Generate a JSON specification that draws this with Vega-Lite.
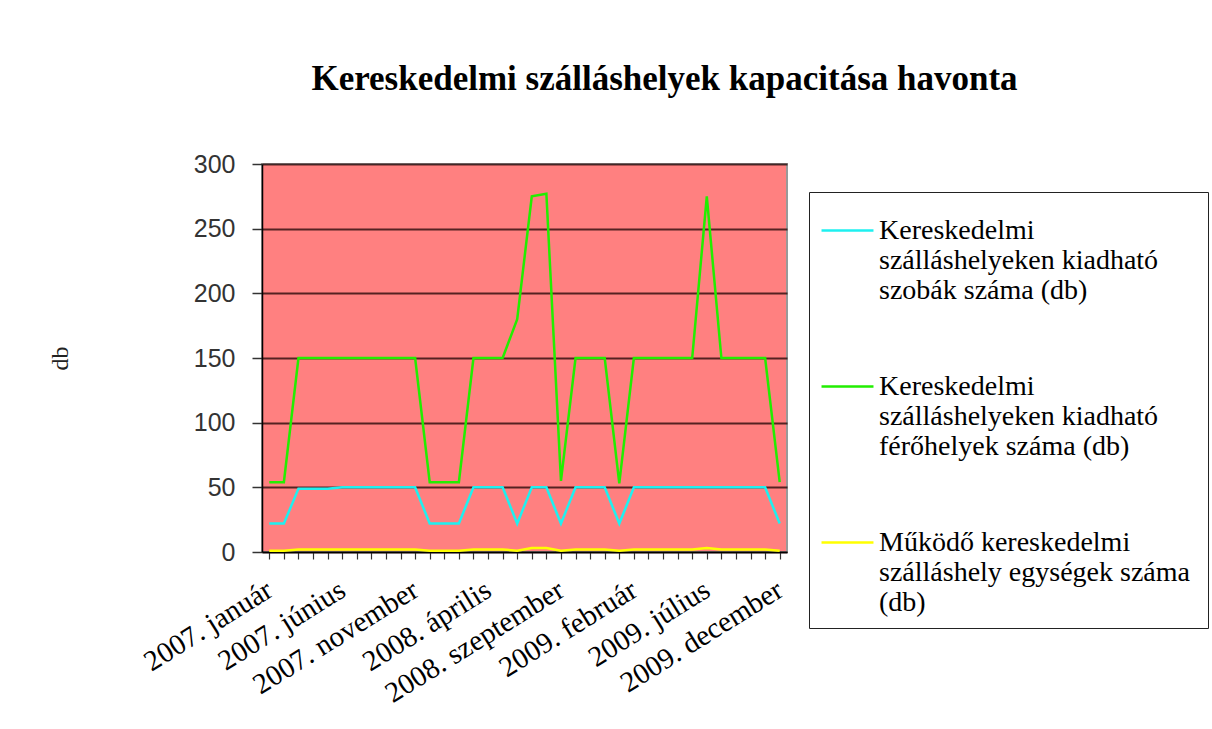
{
  "$schema": "https://vega.github.io/schema/vega-lite/v6.json",
  "autosize": "none",
  "width": 525,
  "height": 388,
  "padding": {"left": 262, "top": 164, "right": 425, "bottom": 177},
  "background": "white",
  "title": {
    "text": "Kereskedelmi szálláshelyek kapacitása havonta",
    "font": "Liberation Serif",
    "fontSize": 35,
    "fontWeight": "bold",
    "color": "#000",
    "anchor": "middle",
    "frame": "group",
    "baseline": "alphabetic",
    "dx": 140,
    "offset": 27
  },
  "data": {"values": [
    {"m":"2007. január","s":"S","v":22},{"m":"2007. február","s":"S","v":22},{"m":"2007. március","s":"S","v":49},{"m":"2007. április","s":"S","v":49},{"m":"2007. május","s":"S","v":49},{"m":"2007. június","s":"S","v":50},{"m":"2007. július","s":"S","v":50},{"m":"2007. augusztus","s":"S","v":50},{"m":"2007. szeptember","s":"S","v":50},{"m":"2007. október","s":"S","v":50},{"m":"2007. november","s":"S","v":50},{"m":"2007. december","s":"S","v":22},
    {"m":"2008. január","s":"S","v":22},{"m":"2008. február","s":"S","v":22},{"m":"2008. március","s":"S","v":50},{"m":"2008. április","s":"S","v":50},{"m":"2008. május","s":"S","v":50},{"m":"2008. június","s":"S","v":22},{"m":"2008. július","s":"S","v":50},{"m":"2008. augusztus","s":"S","v":50},{"m":"2008. szeptember","s":"S","v":22},{"m":"2008. október","s":"S","v":50},{"m":"2008. november","s":"S","v":50},{"m":"2008. december","s":"S","v":50},
    {"m":"2009. január","s":"S","v":22},{"m":"2009. február","s":"S","v":50},{"m":"2009. március","s":"S","v":50},{"m":"2009. április","s":"S","v":50},{"m":"2009. május","s":"S","v":50},{"m":"2009. június","s":"S","v":50},{"m":"2009. július","s":"S","v":50},{"m":"2009. augusztus","s":"S","v":50},{"m":"2009. szeptember","s":"S","v":50},{"m":"2009. október","s":"S","v":50},{"m":"2009. november","s":"S","v":50},{"m":"2009. december","s":"S","v":22},
    {"m":"2007. január","s":"F","v":54},{"m":"2007. február","s":"F","v":54},{"m":"2007. március","s":"F","v":150},{"m":"2007. április","s":"F","v":150},{"m":"2007. május","s":"F","v":150},{"m":"2007. június","s":"F","v":150},{"m":"2007. július","s":"F","v":150},{"m":"2007. augusztus","s":"F","v":150},{"m":"2007. szeptember","s":"F","v":150},{"m":"2007. október","s":"F","v":150},{"m":"2007. november","s":"F","v":150},{"m":"2007. december","s":"F","v":54},
    {"m":"2008. január","s":"F","v":54},{"m":"2008. február","s":"F","v":54},{"m":"2008. március","s":"F","v":150},{"m":"2008. április","s":"F","v":150},{"m":"2008. május","s":"F","v":150},{"m":"2008. június","s":"F","v":180},{"m":"2008. július","s":"F","v":275},{"m":"2008. augusztus","s":"F","v":277},{"m":"2008. szeptember","s":"F","v":55},{"m":"2008. október","s":"F","v":150},{"m":"2008. november","s":"F","v":150},{"m":"2008. december","s":"F","v":150},
    {"m":"2009. január","s":"F","v":53},{"m":"2009. február","s":"F","v":150},{"m":"2009. március","s":"F","v":150},{"m":"2009. április","s":"F","v":150},{"m":"2009. május","s":"F","v":150},{"m":"2009. június","s":"F","v":150},{"m":"2009. július","s":"F","v":275},{"m":"2009. augusztus","s":"F","v":150},{"m":"2009. szeptember","s":"F","v":150},{"m":"2009. október","s":"F","v":150},{"m":"2009. november","s":"F","v":150},{"m":"2009. december","s":"F","v":54},
    {"m":"2007. január","s":"E","v":1},{"m":"2007. február","s":"E","v":1},{"m":"2007. március","s":"E","v":2},{"m":"2007. április","s":"E","v":2},{"m":"2007. május","s":"E","v":2},{"m":"2007. június","s":"E","v":2},{"m":"2007. július","s":"E","v":2},{"m":"2007. augusztus","s":"E","v":2},{"m":"2007. szeptember","s":"E","v":2},{"m":"2007. október","s":"E","v":2},{"m":"2007. november","s":"E","v":2},{"m":"2007. december","s":"E","v":1},
    {"m":"2008. január","s":"E","v":1},{"m":"2008. február","s":"E","v":1},{"m":"2008. március","s":"E","v":2},{"m":"2008. április","s":"E","v":2},{"m":"2008. május","s":"E","v":2},{"m":"2008. június","s":"E","v":1},{"m":"2008. július","s":"E","v":3},{"m":"2008. augusztus","s":"E","v":3},{"m":"2008. szeptember","s":"E","v":1},{"m":"2008. október","s":"E","v":2},{"m":"2008. november","s":"E","v":2},{"m":"2008. december","s":"E","v":2},
    {"m":"2009. január","s":"E","v":1},{"m":"2009. február","s":"E","v":2},{"m":"2009. március","s":"E","v":2},{"m":"2009. április","s":"E","v":2},{"m":"2009. május","s":"E","v":2},{"m":"2009. június","s":"E","v":2},{"m":"2009. július","s":"E","v":3},{"m":"2009. augusztus","s":"E","v":2},{"m":"2009. szeptember","s":"E","v":2},{"m":"2009. október","s":"E","v":2},{"m":"2009. november","s":"E","v":2},{"m":"2009. december","s":"E","v":1}
  ]},
  "mark": {"type": "line", "strokeWidth": 2.5},
  "encoding": {
    "x": {
      "field": "m", "type": "ordinal", "sort": null,
      "scale": {"paddingInner": 0, "paddingOuter": 0},
      "axis": {
        "title": null,
        "bandPosition": 0,
        "labelOffset": 0,
        "labelAngle": -32,
        "labelAlign": "right",
        "labelBaseline": "middle",
        "labelFont": "Liberation Serif",
        "labelFontSize": 29,
        "labelColor": "#000",
        "labelPadding": 28,
        "labelLimit": 400,
        "labelExpr": "indexof(['2007. január','2007. június','2007. november','2008. április','2008. szeptember','2009. február','2009. július','2009. december'], datum.value) >= 0 ? datum.value : ''",
        "ticks": true, "tickSize": 7, "tickColor": "#333", "tickWidth": 1.2,
        "domainColor": "#000", "domainWidth": 1.5,
        "grid": false,
        "labelOverlap": false
      }
    },
    "y": {
      "field": "v", "type": "quantitative",
      "scale": {"domain": [0, 300], "nice": false},
      "axis": {
        "title": "db",
        "titleFont": "Liberation Serif", "titleFontSize": 24, "titleFontWeight": "normal", "titleColor": "#222",
        "titleX": -202, "titleY": 194, "titleAngle": -90, "titleAlign": "center", "titleBaseline": "middle",
        "values": [0, 50, 100, 150, 200, 250, 300],
        "labelFont": "Liberation Sans", "labelFontSize": 25, "labelColor": "#333",
        "labelPadding": 17,
        "tickSize": 10, "tickColor": "#333", "tickWidth": 1.5,
        "domainColor": "#000", "domainWidth": 1.5,
        "grid": true, "gridColor": "#2a0a0a", "gridWidth": 2, "gridOpacity": 0.8
      }
    },
    "color": {
      "field": "s", "type": "nominal",
      "scale": {"domain": ["S", "F", "E"], "range": ["#1EF0F0", "#22EE00", "#FFFF00"]},
      "legend": {
        "title": null,
        "orient": "none", "legendX": 547, "legendY": 28,
        "strokeColor": "#222", "fillColor": "white", "padding": 11,
        "symbolType": "stroke", "symbolSize": 2700, "symbolStrokeWidth": 2.5,
        "labelFont": "Liberation Serif", "labelFontSize": 28, "labelLineHeight": 35,
        "labelLimit": 500, "labelColor": "#000", "labelOffset": 4, "labelBaseline": "middle",
        "rowPadding": 54,
        "labelExpr": "datum.label == 'S' ? ['Kereskedelmi', 'szálláshelyeken kiadható', 'szobák száma (db)'] : datum.label == 'F' ? ['Kereskedelmi', 'szálláshelyeken kiadható', 'férőhelyek száma (db)'] : ['Működő kereskedelmi', 'szálláshely egységek  száma', '(db)']"
      }
    }
  },
  "config": {
    "view": {"fill": "#FF8080", "stroke": "#999999", "strokeWidth": 2}
  }
}
